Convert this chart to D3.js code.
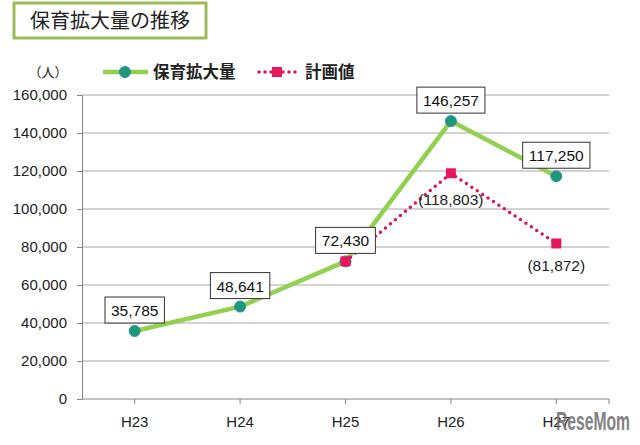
<!DOCTYPE html>
<html>
<head>
<meta charset="utf-8">
<script src="https://cdn.jsdelivr.net/npm/d3@7"></script>
<style>
  body { margin: 0; background: #fff; }
  svg { display: block; }
</style>
</head>
<body>
<svg id="chart"></svg>
<script>
const categories = ['H23', 'H24', 'H25', 'H26', 'H27'];
const actual = [35785, 48641, 72430, 146257, 117250];
const plan = [null, null, 72430, 118803, 81872];
const yTicks = [0, 20000, 40000, 60000, 80000, 100000, 120000, 140000, 160000];

const w = 640, h = 445;
const jp = '"Noto Sans CJK JP", "Noto Sans", sans-serif';
const num = '"Liberation Sans", Arial, sans-serif';

const svg = d3.select('#chart').attr('width', w).attr('height', h);

// title box
svg.append('rect')
  .attr('x', 14).attr('y', 3).attr('width', 192).attr('height', 35)
  .attr('fill', '#fff').attr('stroke', '#9bbb59').attr('stroke-width', 3);
svg.append('text')
  .attr('x', 110).attr('y', 28).attr('text-anchor', 'middle')
  .style('font-family', jp).style('font-size', '20px').attr('fill', '#222')
  .text('保育拡大量の推移');

const x = d3.scaleBand().domain(categories).range([82, 609]);
const y = d3.scaleLinear().domain([0, 160000]).range([399, 95]);
const cx = d => x(d) + x.bandwidth() / 2;

// grid
svg.append('g').selectAll('line')
  .data(yTicks.filter(d => d > 0))
  .join('line')
  .attr('x1', 82).attr('x2', 609)
  .attr('y1', d => y(d)).attr('y2', d => y(d))
  .attr('stroke', '#a6a6a6').attr('stroke-width', 1);

// y axis
const yAxis = d3.axisLeft(y).tickValues(yTicks).tickSize(5).tickPadding(10)
  .tickFormat(d3.format(','));
const gy = svg.append('g').attr('transform', 'translate(82,0)').call(yAxis);
gy.selectAll('path, line').attr('stroke', '#868686');
gy.selectAll('text').style('font-family', num).style('font-size', '15px').attr('fill', '#222');

// x axis
const xAxis = d3.axisBottom(x).tickSize(5).tickPadding(12);
const gx = svg.append('g').attr('transform', 'translate(0,399)').call(xAxis);
gx.select('.domain').attr('stroke', '#868686').attr('d', 'M82,0H609V5');
gx.selectAll('line').attr('stroke', '#868686');
gx.selectAll('text').style('font-family', num).style('font-size', '15px').attr('fill', '#222');

// lines
const line = d3.line()
  .defined(d => d[1] != null)
  .x(d => cx(d[0]))
  .y(d => y(d[1]));

svg.append('path')
  .datum(categories.map((c, i) => [c, actual[i]]))
  .attr('d', line)
  .attr('fill', 'none').attr('stroke', '#92d050').attr('stroke-width', 4.5)
  .attr('stroke-linejoin', 'round');

svg.append('g').selectAll('circle')
  .data(categories.map((c, i) => [c, actual[i]]))
  .join('circle')
  .attr('cx', d => cx(d[0])).attr('cy', d => y(d[1])).attr('r', 5.5)
  .attr('fill', '#1a9a78').attr('stroke', '#3b87a8').attr('stroke-width', 1);

const planPts = categories.map((c, i) => [c, plan[i]]).filter(d => d[1] != null);
svg.append('path')
  .datum(planPts)
  .attr('d', line)
  .attr('fill', 'none').attr('stroke', '#d8145a').attr('stroke-width', 3.5)
  .attr('stroke-dasharray', '0,6.5').attr('stroke-linecap', 'round');

svg.append('g').selectAll('rect')
  .data(planPts)
  .join('rect')
  .attr('x', d => cx(d[0]) - 5).attr('y', d => y(d[1]) - 5)
  .attr('width', 10).attr('height', 10)
  .attr('fill', '#e8175d');

// boxed labels for actual values
const lab = svg.append('g');
categories.forEach((c, i) => {
  const px = cx(c), py = y(actual[i]);
  const g = lab.append('g');
  const t = g.append('text')
    .attr('x', px).attr('y', py - 15)
    .attr('text-anchor', 'middle')
    .style('font-family', num).style('font-size', '15.5px').attr('fill', '#111')
    .text(d3.format(',')(actual[i]));
  const bb = t.node().getBBox();
  g.insert('rect', 'text')
    .attr('x', px - bb.width / 2 - 6).attr('y', py - 34)
    .attr('width', bb.width + 12).attr('height', 26)
    .attr('fill', '#fff').attr('stroke', '#333').attr('stroke-width', 1);
});

// plan labels in parentheses
categories.forEach((c, i) => {
  if (plan[i] == null || plan[i] === actual[i]) return;
  svg.append('text')
    .attr('x', cx(c)).attr('y', y(plan[i]) + (i === 3 ? 32 : 28))
    .attr('text-anchor', 'middle')
    .style('font-family', num).style('font-size', '15.5px').attr('fill', '#222')
    .text('(' + d3.format(',')(plan[i]) + ')');
});

// legend
svg.append('text').attr('x', 48).attr('y', 77).attr('text-anchor', 'middle')
  .style('font-family', jp).style('font-size', '13px').attr('fill', '#222').text('（人）');
const lg = svg.append('g');
lg.append('line').attr('x1', 103).attr('x2', 148).attr('y1', 72).attr('y2', 72)
  .attr('stroke', '#92d050').attr('stroke-width', 4.5);
lg.append('circle').attr('cx', 125).attr('cy', 72).attr('r', 5.5)
  .attr('fill', '#1a9a78').attr('stroke', '#3b87a8');
lg.append('text').attr('x', 153).attr('y', 78)
  .style('font-family', jp).style('font-size', '16.5px').style('font-weight', 'bold').attr('fill', '#222')
  .text('保育拡大量');
lg.append('line').attr('x1', 259).attr('x2', 296).attr('y1', 72).attr('y2', 72)
  .attr('stroke', '#d8145a').attr('stroke-width', 3.5)
  .attr('stroke-dasharray', '0,6').attr('stroke-linecap', 'round');
lg.append('rect').attr('x', 272).attr('y', 67).attr('width', 10).attr('height', 10)
  .attr('fill', '#e8175d');
lg.append('text').attr('x', 305).attr('y', 78)
  .style('font-family', jp).style('font-size', '16.5px').style('font-weight', 'bold').attr('fill', '#222')
  .text('計画値');

// watermark (sits over the H27 label, as in the source image)
svg.append('text').attr('x', 556).attr('y', 430)
  .style('font-family', num).style('font-size', '25px').style('font-weight', 'bold')
  .attr('fill', '#6e6e6e').attr('opacity', 0.85).attr('textLength', 74)
  .attr('lengthAdjust', 'spacingAndGlyphs')
  .text('ReseMom');
</script>
</body>
</html>
